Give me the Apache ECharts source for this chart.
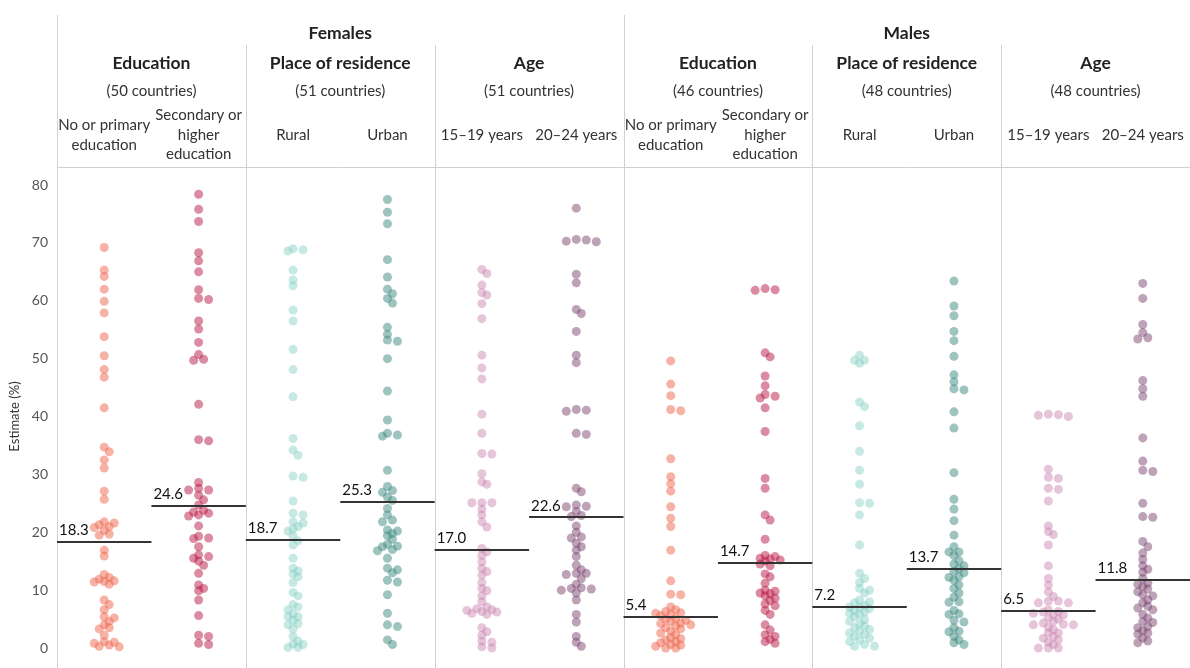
<!DOCTYPE html>
<html>
<head>
<meta charset="utf-8">
<script src="https://cdn.jsdelivr.net/npm/echarts@6/dist/echarts.min.js"></script>
<style>
  html, body { margin: 0; padding: 0; background: #fff; }
  #chart { width: 1190px; height: 668px; }
</style>
</head>
<body>
<div id="chart"></div>
<script>
// values, one array per column (estimate %, one point per country)
const femEduLow = [69.2, 65.3, 64.2, 62.0, 59.9, 57.9, 53.8, 50.5, 48.1, 46.8, 41.5, 34.7, 33.9, 32.5, 31.1, 27.1, 25.7, 21.8, 21.6, 21.3, 21.0, 20.8, 20.3, 19.7, 19.5, 16.9, 15.9, 12.7, 12.2, 11.9, 11.6, 11.5, 11.4, 11.0, 8.3, 7.5, 6.6, 5.4, 5.2, 4.6, 4.0, 3.5, 3.3, 2.2, 1.1, 1.0, 0.8, 0.5, 0.3, 0.2];
const femEduHigh = [78.4, 75.8, 73.7, 68.3, 66.9, 65.0, 61.9, 60.4, 60.2, 56.5, 55.1, 52.8, 50.7, 49.9, 49.7, 42.1, 36.0, 35.8, 28.6, 27.6, 27.3, 27.3, 26.4, 25.6, 24.7, 23.8, 23.5, 23.3, 23.0, 22.8, 21.1, 19.3, 19.0, 18.9, 17.5, 16.1, 15.8, 15.5, 15.0, 14.3, 12.9, 10.9, 10.3, 9.9, 8.3, 5.6, 2.2, 2.0, 0.8, 0.6];
const femRural = [69.0, 68.8, 68.6, 65.3, 63.6, 62.6, 58.4, 56.5, 51.6, 48.1, 43.4, 36.2, 34.2, 33.3, 29.7, 29.5, 25.4, 23.3, 23.0, 21.8, 21.6, 21.0, 20.6, 20.2, 19.4, 18.5, 17.8, 15.5, 13.8, 13.3, 12.8, 12.3, 11.3, 9.6, 9.0, 7.5, 7.1, 6.6, 5.9, 5.4, 5.4, 4.8, 4.2, 4.0, 3.3, 2.0, 1.2, 0.7, 0.6, 0.1, 0.1];
const femUrban = [77.5, 75.3, 73.3, 67.1, 64.1, 62.0, 61.2, 60.4, 59.6, 55.4, 54.2, 53.2, 53.0, 50.0, 44.4, 39.4, 37.1, 36.8, 36.6, 30.7, 27.9, 27.2, 26.9, 26.1, 25.5, 24.1, 23.0, 22.1, 21.8, 20.4, 20.2, 19.8, 19.4, 18.8, 17.9, 17.6, 17.5, 17.0, 16.8, 15.5, 13.8, 13.5, 13.0, 11.7, 11.4, 9.2, 6.0, 4.0, 3.7, 1.4, 0.6];
const femAge1519 = [65.4, 64.7, 62.7, 61.4, 61.0, 59.5, 56.9, 50.6, 48.4, 46.5, 40.4, 37.1, 33.6, 33.5, 30.1, 28.7, 28.3, 25.1, 25.1, 25.1, 24.0, 23.0, 21.8, 20.9, 17.2, 16.6, 16.0, 14.9, 13.8, 13.2, 12.6, 11.3, 10.3, 9.9, 9.0, 8.0, 7.1, 6.8, 6.6, 6.5, 6.3, 6.2, 6.0, 5.8, 3.5, 2.8, 2.2, 1.2, 1.0, 0.2, 0.0];
const femAge2024 = [76.0, 70.6, 70.5, 70.3, 70.2, 64.6, 63.1, 58.5, 57.8, 54.7, 50.6, 49.3, 41.2, 41.1, 40.9, 37.1, 36.9, 27.6, 27.0, 24.7, 24.5, 24.4, 23.6, 22.9, 22.7, 21.1, 20.0, 19.2, 19.0, 18.1, 17.5, 16.9, 15.8, 14.3, 13.5, 12.9, 12.9, 12.7, 12.0, 11.0, 10.4, 10.3, 10.2, 10.0, 9.5, 8.3, 5.8, 4.5, 2.0, 1.0, 0.3];
const maleEduLow = [49.6, 45.6, 43.6, 41.2, 41.0, 32.7, 29.6, 28.4, 27.1, 24.4, 22.4, 21.0, 16.9, 11.6, 9.3, 9.2, 7.1, 6.6, 6.3, 6.1, 6.0, 5.8, 5.6, 5.1, 5.0, 4.8, 4.6, 4.3, 4.2, 4.0, 3.8, 3.5, 3.3, 2.9, 2.6, 2.3, 1.8, 1.6, 1.4, 1.1, 0.9, 0.6, 0.5, 0.3, 0.0, 0.0];
const maleEduHigh = [62.1, 61.9, 61.8, 51.0, 50.3, 47.0, 45.3, 43.8, 43.5, 43.2, 41.5, 37.4, 29.3, 27.6, 23.0, 22.1, 18.8, 16.0, 15.8, 15.5, 15.4, 15.2, 15.0, 14.5, 14.2, 12.8, 12.3, 11.2, 10.0, 9.8, 9.5, 9.4, 9.0, 8.6, 8.2, 7.6, 7.3, 6.5, 5.8, 4.0, 3.1, 2.3, 2.0, 1.5, 1.1, 0.8];
const maleRural = [50.6, 49.7, 49.7, 49.2, 42.5, 41.7, 38.4, 34.0, 30.7, 28.3, 25.1, 25.0, 23.0, 17.8, 12.9, 12.0, 11.3, 10.3, 10.0, 9.5, 8.3, 8.0, 7.8, 7.4, 7.1, 7.0, 6.8, 6.5, 6.2, 6.0, 5.8, 5.4, 4.9, 4.6, 4.2, 3.8, 3.5, 3.2, 2.9, 2.6, 2.3, 2.0, 1.7, 1.4, 1.1, 0.6, 0.3, 0.3];
const maleUrban = [63.4, 59.1, 57.4, 54.7, 53.1, 50.4, 47.2, 46.0, 44.8, 44.6, 40.8, 38.0, 30.3, 25.7, 24.0, 22.0, 19.5, 17.5, 16.6, 16.6, 16.0, 15.1, 14.5, 14.2, 13.7, 13.2, 13.0, 12.3, 12.2, 11.7, 10.9, 10.3, 9.5, 8.8, 8.0, 7.9, 6.5, 5.9, 5.8, 4.8, 4.5, 3.5, 2.9, 2.8, 2.0, 1.4, 0.9, 0.6];
const maleAge1519 = [40.4, 40.3, 40.2, 40.0, 30.9, 29.5, 29.3, 27.6, 27.4, 25.4, 21.1, 20.1, 19.6, 17.8, 14.2, 12.0, 10.9, 9.7, 8.9, 8.1, 8.1, 7.8, 7.8, 6.6, 6.3, 6.2, 6.0, 5.8, 5.7, 5.2, 5.0, 4.6, 4.3, 4.1, 4.0, 4.0, 3.6, 3.2, 2.6, 2.6, 2.0, 1.7, 1.4, 1.0, 0.6, 0.0, 0.0, 0.0];
const maleAge2024 = [63.0, 60.4, 55.9, 54.5, 53.6, 53.4, 46.2, 44.8, 43.5, 36.3, 32.3, 30.7, 30.5, 25.0, 22.7, 22.6, 18.4, 17.5, 16.4, 15.3, 14.2, 13.6, 13.1, 12.0, 11.2, 11.0, 10.6, 10.2, 9.7, 9.2, 9.0, 8.3, 7.8, 7.2, 6.9, 6.6, 5.8, 5.2, 4.6, 4.4, 3.7, 3.5, 3.0, 2.6, 2.4, 1.7, 1.2, 0.9];

const columns = [femEduLow, femEduHigh, femRural, femUrban, femAge1519, femAge2024,
                 maleEduLow, maleEduHigh, maleRural, maleUrban, maleAge1519, maleAge2024];
const medians = [18.3, 24.6, 18.7, 25.3, 17.0, 22.6, 5.4, 14.7, 7.2, 13.7, 6.5, 11.8];

const columnLabels = ['No or primary\neducation', 'Secondary or\nhigher\neducation', 'Rural', 'Urban', '15–19 years', '20–24 years',
                      'No or primary\neducation', 'Secondary or\nhigher\neducation', 'Rural', 'Urban', '15–19 years', '20–24 years'];
const groupLabels = ['Education', 'Place of residence', 'Age', 'Education', 'Place of residence', 'Age'];
const groupCounts = ['(50 countries)', '(51 countries)', '(51 countries)', '(46 countries)', '(48 countries)', '(48 countries)'];
const sexLabels = ['Females', 'Males'];
const yTicks = [0, 80, 10]; // min, max, interval

// one colour per column kind (edu low, edu high, rural, urban, 15-19, 20-24)
const palette = ['rgba(238,100,74,0.62)', 'rgba(184,22,66,0.62)', 'rgba(128,205,194,0.55)',
                 'rgba(58,136,126,0.62)', 'rgba(200,130,175,0.58)', 'rgba(122,66,112,0.62)'];

const FONT = 'Lato, "Noto Sans", sans-serif';
const chart = echarts.init(document.getElementById('chart'), null, { renderer: 'canvas' });

chart.setOption({
  animation: false,
  grid: { left: 57, right: 0, top: 185, bottom: 20, outerBoundsMode: 'none' },
  xAxis: { type: 'value', min: 0, max: columns.length, show: false },
  yAxis: {
    type: 'value', min: yTicks[0], max: yTicks[1], interval: yTicks[2],
    axisLine: { show: false }, axisTick: { show: false }, splitLine: { show: false },
    axisLabel: { color: '#555', fontSize: 14, margin: 9, fontFamily: FONT },
    name: 'Estimate (%)', nameLocation: 'middle', nameGap: 33,
    nameTextStyle: { color: '#333', fontSize: 13, fontFamily: FONT }
  },
  series: []
});

// pixel helpers through the chart's own axes
const px = v => chart.convertToPixel({ xAxisIndex: 0 }, v);
const py = v => chart.convertToPixel({ yAxisIndex: 0 }, v);
const unitX = px(1) - px(0);

// simple deterministic beeswarm: nudge points sideways when they collide
function swarm(values, step, minDist) {
  const placed = [];
  return values.map(v => {
    const y = py(v);
    for (let k = 0; k < 60; k++) {
      const dx = k === 0 ? 0 : (k % 2 ? 1 : -1) * Math.ceil(k / 2) * step;
      if (placed.every(p => Math.hypot(p.y - y, p.dx - dx) >= minDist)) {
        placed.push({ y, dx });
        return dx;
      }
    }
    return 0;
  });
}

const series = columns.map((vals, i) => {
  const offs = swarm(vals, 5, 5.5);
  return {
    type: 'scatter',
    symbolSize: 9,
    itemStyle: { color: palette[i % 6] },
    data: vals.map((v, j) => [i + 0.5 + offs[j] / unitX, v]),
    markLine: {
      silent: true,
      symbol: 'none',
      lineStyle: { color: '#333', width: 2, type: 'solid' },
      label: {
        show: true, position: 'insideStartTop', distance: [2, 4],
        formatter: medians[i].toFixed(1), color: '#111', fontSize: 15, fontFamily: FONT
      },
      data: [[{ coord: [i, medians[i]] }, { coord: [i + 1, medians[i]] }]]
    }
  };
});

// header: texts and separator lines placed from the axis positions
const graphic = [];
const topY = 15, bottomY = 668, headerBottom = 167;
const lineStyle = { stroke: '#d0d0d0', lineWidth: 1 };
const vline = (x, y1) => graphic.push({ type: 'line', silent: true,
  shape: { x1: Math.round(x) + 0.5, y1, x2: Math.round(x) + 0.5, y2: bottomY }, style: lineStyle });
const text = (t, x, y, size, weight, color) => graphic.push({ type: 'text', silent: true, x, y,
  style: { text: t, align: 'center', verticalAlign: 'middle', fontSize: size, fontWeight: weight,
           fill: color, fontFamily: FONT, lineHeight: 19.5 } });

graphic.push({ type: 'line', silent: true,
  shape: { x1: px(0), y1: headerBottom + 0.5, x2: px(columns.length), y2: headerBottom + 0.5 }, style: lineStyle });
sexLabels.forEach((s, k) => {
  vline(px(k * 6), topY);
  text(s, (px(k * 6) + px(k * 6 + 6)) / 2, 33, 17.5, 'bold', '#222');
});
groupLabels.forEach((g, k) => {
  if (k % 3 !== 0) vline(px(k * 2), 45);
  const cx = (px(k * 2) + px(k * 2 + 2)) / 2;
  text(g, cx, 63, 17.5, 'bold', '#222');
  text(groupCounts[k], cx, 91, 15, 'normal', '#333');
});
columnLabels.forEach((c, i) => text(c, px(i + 0.5), 135, 15, 'normal', '#333'));

chart.setOption({ series, graphic });
</script>
</body>
</html>
